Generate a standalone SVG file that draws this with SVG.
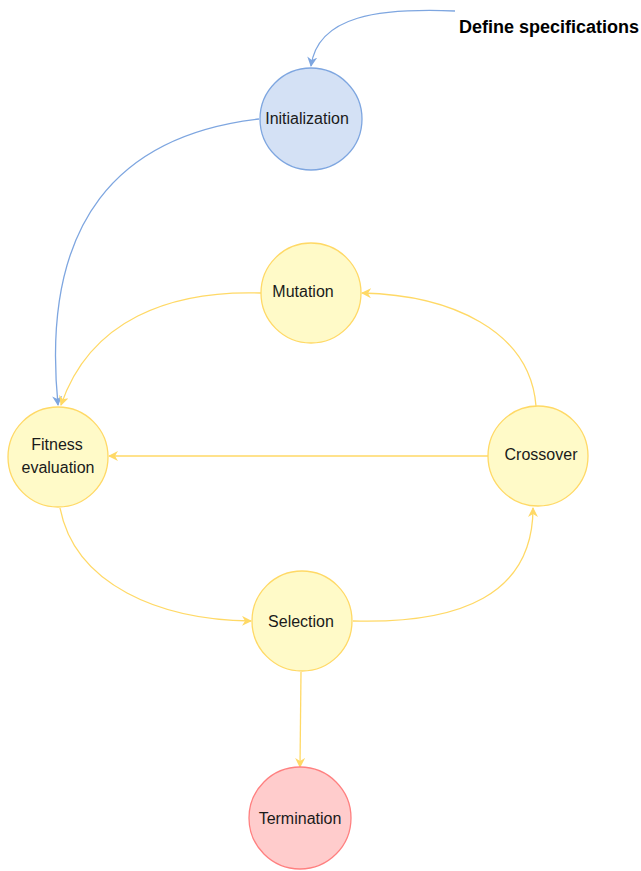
<svg xmlns="http://www.w3.org/2000/svg" width="641" height="871" viewBox="0 0 641 871">
<defs>
<style>
.y{fill:#fffac8;stroke:#ffd966;stroke-width:1.3}
.b{fill:#d4e1f5;stroke:#7ea6e0;stroke-width:1.3}
.r{fill:#ffcccc;stroke:#ff8080;stroke-width:1.3}
.t{font-family:"Liberation Sans",Arial,sans-serif;font-size:16px;fill:#1a1a1a;text-anchor:middle}
.ey{fill:none;stroke:#ffd966;stroke-width:1.3}
.eb{fill:none;stroke:#7ea6e0;stroke-width:1.3}
</style>
<marker id="ay" viewBox="0 0 10 10" refX="9" refY="5" markerWidth="10" markerHeight="10" markerUnits="userSpaceOnUse" orient="auto">
<path d="M0,0 L10,5 L0,10 L3,5 Z" fill="#ffd966"/>
</marker>
<marker id="ab" viewBox="0 0 10 10" refX="9" refY="5" markerWidth="10" markerHeight="10" markerUnits="userSpaceOnUse" orient="auto">
<path d="M0,0 L10,5 L0,10 L3,5 Z" fill="#7ea6e0"/>
</marker>
</defs>
<g id="connectors">
<path class="eb" d="M455,11 C380,8 318,15 311,66" marker-end="url(#ab)"/>
<path class="eb" d="M259,119 C120,135 40,220 58,405" marker-end="url(#ab)"/>
<path class="ey" d="M261,293 C170,290 90,320 61,405" marker-end="url(#ay)"/>
<path class="ey" d="M536,406 C530,330 450,295 362,293" marker-end="url(#ay)"/>
<path class="ey" d="M488,456 L109,456" marker-end="url(#ay)"/>
<path class="ey" d="M60,508 C75,585 160,620 251,621" marker-end="url(#ay)"/>
<path class="ey" d="M353,621 C460,624 533,595 533,508" marker-end="url(#ay)"/>
<path class="ey" d="M301,672 L300,767" marker-end="url(#ay)"/>
</g>
<g id="define">
<text x="459" y="33" font-family="'Liberation Sans',Arial,sans-serif" font-size="18" font-weight="bold" fill="#000">Define specifications</text>
</g>
<g id="initialization">
<circle class="b" cx="311" cy="119" r="51"/>
<text class="t" x="307" y="124">Initialization</text>
</g>
<g id="mutation">
<circle class="y" cx="311" cy="293" r="50"/>
<text class="t" x="303" y="297">Mutation</text>
</g>
<g id="fitness">
<circle class="y" cx="58" cy="457" r="50"/>
<text class="t" x="57" y="450">Fitness</text>
<text class="t" x="58" y="473">evaluation</text>
</g>
<g id="crossover">
<circle class="y" cx="538" cy="456" r="50"/>
<text class="t" x="541" y="460">Crossover</text>
</g>
<g id="selection">
<circle class="y" cx="302" cy="621" r="50"/>
<text class="t" x="301" y="627">Selection</text>
</g>
<g id="termination">
<circle class="r" cx="300" cy="818" r="51"/>
<text class="t" x="300" y="824">Termination</text>
</g>
</svg>
